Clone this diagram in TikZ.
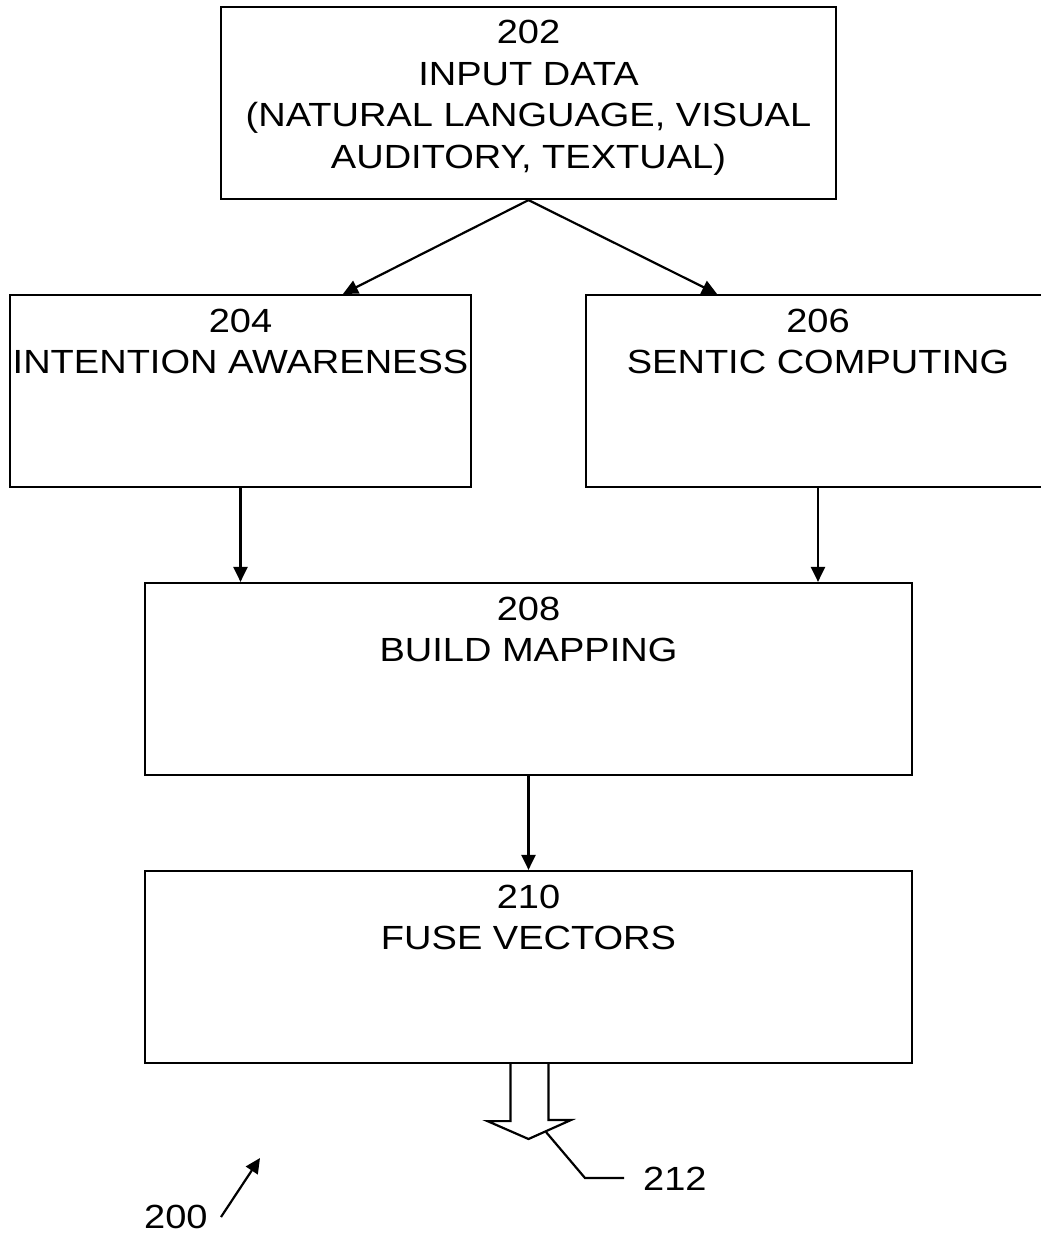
\documentclass[tikz,border=0pt]{standalone}
\usepackage{fontspec}
\setmainfont{Liberation Sans}[FakeStretch=1.135]
\usetikzlibrary{arrows.meta}
\begin{document}
\begin{tikzpicture}[x=1pt,y=-1pt,
  box/.style={draw=black,line width=2.2pt,fill=none,inner sep=0pt},
  txt/.style={align=center,anchor=base,inner sep=0pt,font=\fontsize{33.5}{41.5}\selectfont},
  conn/.style={line width=2.2pt,-{Triangle[length=15pt,width=14pt]}},
  lead/.style={line width=2.2pt}]
\useasboundingbox (0,0) rectangle (1041,1237);
% boxes
\node[box,minimum width=615pt,minimum height=192pt] (n202) at (528.5,103) {};
\node[box,minimum width=461pt,minimum height=192pt] (n204) at (240.5,391) {};
\node[box,minimum width=466pt,minimum height=192pt] (n206) at (819,391) {};
\node[box,minimum width=767pt,minimum height=192pt] (n208) at (528.5,679) {};
\node[box,minimum width=767pt,minimum height=192pt] (n210) at (528.5,967) {};
% texts (base anchor = baseline of last line)
\node[txt] (t202) at (528.5,168) {202\\INPUT DATA\\(NATURAL LANGUAGE, VISUAL\\AUDITORY, TEXTUAL)};
\node[txt] (t204) at (240.5,373.5) {204\\INTENTION AWARENESS};
\node[txt] (t206) at (818,373.5) {206\\SENTIC COMPUTING};
\node[txt] (t208) at (528.5,661.5) {208\\BUILD MAPPING};
\node[txt] (t210) at (528.5,949.5) {210\\FUSE VECTORS};
% connectors
\draw[conn] (n202.south) -- (n204.north -| 343,0);
\draw[conn] (n202.south) -- (n206.north -| 717,0);
\draw[conn] (n204.south) -- (n208.north -| n204.south);
\draw[conn] (n206.south -| 818,0) -- (n208.north -| 818,0);
\draw[conn] (n208.south) -- (n210.north);
% hollow output arrow 212
\coordinate (ha) at (n210.south);
\draw[lead,line join=miter] ([xshift=-18pt]ha) -- ++(0,57) -- ++(-23,0) -- (528.5,1139) -- (571,1120) -- ([xshift=20pt]ha |- 0,1120) -- ([xshift=20pt]ha);
\coordinate (l1) at (546,1132);
\coordinate (l2) at (585,1178);
\coordinate (l3) at (624,1178);
\draw[lead] (l1) -- (l2) -- (l3);
\node[txt,anchor=base west] (t212) at (643,1190) {212};
% figure label 200
\node[txt,anchor=base west] (t200) at (144,1228) {200};
\coordinate (a200s) at (221,1217);
\coordinate (a200e) at (260,1158);
\draw[conn] (a200s) -- (a200e);
\end{tikzpicture}
\end{document}
